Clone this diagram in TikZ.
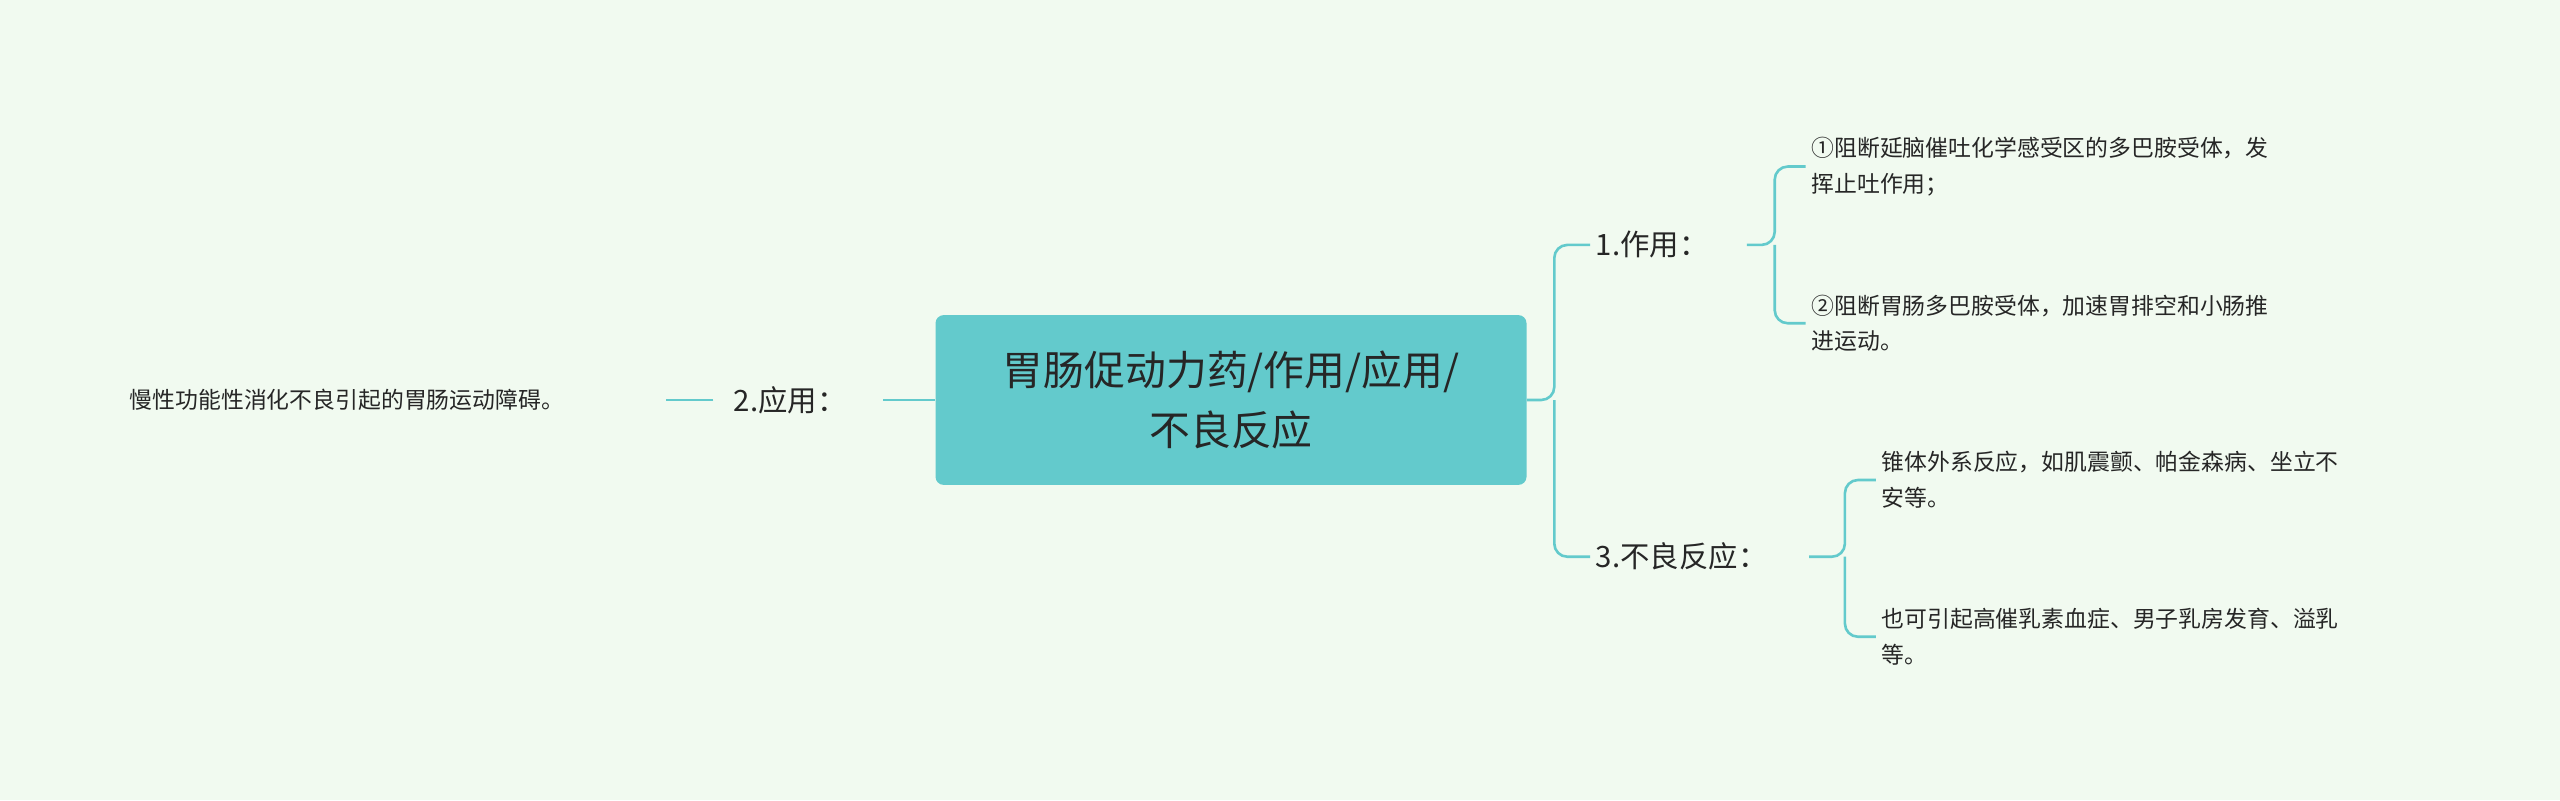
\documentclass[tikz,border=0pt]{standalone}
\usepackage{fontspec}
\setmainfont{Noto Sans CJK SC}
\begin{document}
\begin{tikzpicture}[x=1pt,y=-1pt,
  conn/.style={draw=teal!60!cyan!70!white, line width=1.6pt, rounded corners=8pt},
  leaf/.style={anchor=west, align=left, font=\fontsize{14}{22}\selectfont, text=black!85},
  mid/.style={anchor=west, font=\fontsize{18}{22}\selectfont, text=black!85}]
\definecolor{bg}{HTML}{F1FAF0}
\definecolor{tealc}{HTML}{63CACC}
\tikzset{conn/.style={draw=tealc, line width=1.6pt, rounded corners=8pt}}
\fill[bg] (0,0) rectangle (1568,490);
\useasboundingbox (0,0) rectangle (1568,490);
\node[fill=tealc, rounded corners=5pt, minimum width=362pt, minimum height=104pt, align=center,
  font=\fontsize{25}{37}\selectfont, text=black!85] (c) at (754,245) {胃肠促动力药/作用/应用/\\不良反应};
\node[mid] (a2) at (446,245) {2.应用：};
\node[leaf] (l0) at (76,245) {慢性功能性消化不良引起的胃肠运动障碍。};
\node[mid] (a1) at (974,150) {1.作用：};
\node[mid] (a3) at (974,341) {3.不良反应：};
\node[leaf] (l1) at (1106,102) {①阻断延脑催吐化学感受区的多巴胺受体，发\\挥止吐作用；};
\node[leaf] (l2) at (1106,198) {②阻断胃肠多巴胺受体，加速胃排空和小肠推\\进运动。};
\node[leaf] (l3) at (1149,294) {锥体外系反应，如肌震颤、帕金森病、坐立不\\安等。};
\node[leaf] (l4) at (1149,390) {也可引起高催乳素血症、男子乳房发育、溢乳\\等。};
\draw[conn] (c.west) -- (541,245);
\draw[conn] (437,245) -- (408,245);
\draw[conn] (c.east) -- (952,245) |- (a1.west);
\draw[conn] (952,245) |- (a3.west);
\draw[conn] (1070,150) -- (1087,150) |- (l1.west);
\draw[conn] (1087,150) |- (l2.west);
\draw[conn] (1108,341) -- (1130,341) |- (l3.west);
\draw[conn] (1130,341) |- (l4.west);
\end{tikzpicture}
\end{document}
